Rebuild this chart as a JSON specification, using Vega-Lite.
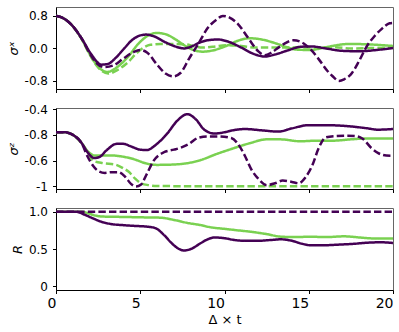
{
 "$schema": "https://vega.github.io/schema/vega-lite/v6.json",
 "padding": {"left": 6, "top": 6, "right": 5, "bottom": 5},
 "spacing": 19,
 "bounds": "flush",
 "config": {
  "font": "DejaVu Sans",
  "view": {"stroke": "#666", "strokeWidth": 1},
  "axis": {"domainColor": "black", "tickColor": "black", "labelColor": "black", "titleColor": "black", "labelFontSize": 12, "titleFontSize": 13, "tickSize": 3.5, "grid": false, "domainWidth": 1, "tickWidth": 1, "labelFont": "DejaVu Sans", "titleFont": "DejaVu Sans", "titleFontWeight": "normal"},
  "axisY": {"labelPadding": 5, "titlePadding": 4, "titleFontStyle": "italic"},
  "axisX": {"labelPadding": 3, "labelFlush": false, "labelFontSize": 14, "labelAlign": "right", "titlePadding": 3}
 },
 "datasets": {
  "d": [
   {"p":1,"s":"gs","t":0,"v":0.8},{"p":1,"s":"gs","t":0.3,"v":0.77},{"p":1,"s":"gs","t":0.9,"v":0.59},{"p":1,"s":"gs","t":1.5,"v":0.25},{"p":1,"s":"gs","t":2.0,"v":-0.14},{"p":1,"s":"gs","t":2.5,"v":-0.45},{"p":1,"s":"gs","t":3.05,"v":-0.58},{"p":1,"s":"gs","t":3.6,"v":-0.47},{"p":1,"s":"gs","t":4.25,"v":-0.22},{"p":1,"s":"gs","t":4.9,"v":0.12},{"p":1,"s":"gs","t":5.4,"v":0.3},{"p":1,"s":"gs","t":5.95,"v":0.38},{"p":1,"s":"gs","t":6.5,"v":0.35},{"p":1,"s":"gs","t":7.1,"v":0.22},{"p":1,"s":"gs","t":7.6,"v":0.08},{"p":1,"s":"gs","t":8.1,"v":-0.03},{"p":1,"s":"gs","t":8.7,"v":-0.08},{"p":1,"s":"gs","t":9.3,"v":-0.05},{"p":1,"s":"gs","t":10.1,"v":0.06},{"p":1,"s":"gs","t":10.8,"v":0.19},{"p":1,"s":"gs","t":11.5,"v":0.25},{"p":1,"s":"gs","t":12.2,"v":0.22},{"p":1,"s":"gs","t":13.0,"v":0.13},{"p":1,"s":"gs","t":13.7,"v":0.03},{"p":1,"s":"gs","t":14.3,"v":-0.03},{"p":1,"s":"gs","t":15.1,"v":-0.04},{"p":1,"s":"gs","t":16.0,"v":0.03},{"p":1,"s":"gs","t":17.4,"v":0.11},{"p":1,"s":"gs","t":18.5,"v":0.1},{"p":1,"s":"gs","t":20,"v":0.06},
   {"p":1,"s":"gd","t":0,"v":0.8},{"p":1,"s":"gd","t":0.3,"v":0.77},{"p":1,"s":"gd","t":0.9,"v":0.59},{"p":1,"s":"gd","t":1.5,"v":0.25},{"p":1,"s":"gd","t":2.0,"v":-0.15},{"p":1,"s":"gd","t":2.5,"v":-0.47},{"p":1,"s":"gd","t":3.1,"v":-0.62},{"p":1,"s":"gd","t":3.7,"v":-0.52},{"p":1,"s":"gd","t":4.3,"v":-0.33},{"p":1,"s":"gd","t":4.75,"v":-0.13},{"p":1,"s":"gd","t":5.2,"v":0.02},{"p":1,"s":"gd","t":5.6,"v":0.09},{"p":1,"s":"gd","t":6.2,"v":0.11},{"p":1,"s":"gd","t":7.0,"v":0.11},{"p":1,"s":"gd","t":7.7,"v":0.1},{"p":1,"s":"gd","t":8.2,"v":0.05},{"p":1,"s":"gd","t":8.7,"v":0.02},{"p":1,"s":"gd","t":9.3,"v":0.04},{"p":1,"s":"gd","t":10.1,"v":0.08},{"p":1,"s":"gd","t":11.0,"v":0.06},{"p":1,"s":"gd","t":11.8,"v":0.02},{"p":1,"s":"gd","t":13.3,"v":0.02},{"p":1,"s":"gd","t":15.0,"v":0.02},{"p":1,"s":"gd","t":16.5,"v":0.03},{"p":1,"s":"gd","t":17.5,"v":0.0},{"p":1,"s":"gd","t":19.0,"v":0.01},{"p":1,"s":"gd","t":20,"v":0.02},
   {"p":1,"s":"ps","t":0,"v":0.8},{"p":1,"s":"ps","t":0.3,"v":0.77},{"p":1,"s":"ps","t":0.9,"v":0.59},{"p":1,"s":"ps","t":1.5,"v":0.26},{"p":1,"s":"ps","t":2.1,"v":-0.15},{"p":1,"s":"ps","t":2.7,"v":-0.4},{"p":1,"s":"ps","t":3.1,"v":-0.38},{"p":1,"s":"ps","t":3.5,"v":-0.25},{"p":1,"s":"ps","t":4.05,"v":0.0},{"p":1,"s":"ps","t":4.5,"v":0.2},{"p":1,"s":"ps","t":5.0,"v":0.32},{"p":1,"s":"ps","t":5.35,"v":0.34},{"p":1,"s":"ps","t":5.8,"v":0.3},{"p":1,"s":"ps","t":6.5,"v":0.15},{"p":1,"s":"ps","t":7.0,"v":0.06},{"p":1,"s":"ps","t":7.6,"v":0.0},{"p":1,"s":"ps","t":8.0,"v":0.04},{"p":1,"s":"ps","t":8.5,"v":0.14},{"p":1,"s":"ps","t":9.0,"v":0.2},{"p":1,"s":"ps","t":9.6,"v":0.22},{"p":1,"s":"ps","t":10.2,"v":0.17},{"p":1,"s":"ps","t":11.0,"v":0.02},{"p":1,"s":"ps","t":11.7,"v":-0.13},{"p":1,"s":"ps","t":12.4,"v":-0.2},{"p":1,"s":"ps","t":13.0,"v":-0.15},{"p":1,"s":"ps","t":13.75,"v":-0.05},{"p":1,"s":"ps","t":14.5,"v":0.04},{"p":1,"s":"ps","t":15.1,"v":0.05},{"p":1,"s":"ps","t":16.0,"v":0.0},{"p":1,"s":"ps","t":17.0,"v":-0.06},{"p":1,"s":"ps","t":18.0,"v":-0.07},{"p":1,"s":"ps","t":19.0,"v":-0.04},{"p":1,"s":"ps","t":20,"v":0.01},
   {"p":1,"s":"pd","t":0,"v":0.8},{"p":1,"s":"pd","t":0.3,"v":0.77},{"p":1,"s":"pd","t":0.9,"v":0.59},{"p":1,"s":"pd","t":1.5,"v":0.26},{"p":1,"s":"pd","t":2.0,"v":-0.12},{"p":1,"s":"pd","t":2.4,"v":-0.36},{"p":1,"s":"pd","t":2.85,"v":-0.46},{"p":1,"s":"pd","t":3.4,"v":-0.42},{"p":1,"s":"pd","t":4.0,"v":-0.25},{"p":1,"s":"pd","t":4.6,"v":-0.09},{"p":1,"s":"pd","t":5.0,"v":-0.04},{"p":1,"s":"pd","t":5.4,"v":-0.1},{"p":1,"s":"pd","t":6.0,"v":-0.4},{"p":1,"s":"pd","t":6.5,"v":-0.62},{"p":1,"s":"pd","t":6.95,"v":-0.69},{"p":1,"s":"pd","t":7.4,"v":-0.6},{"p":1,"s":"pd","t":7.9,"v":-0.25},{"p":1,"s":"pd","t":8.5,"v":0.15},{"p":1,"s":"pd","t":9.0,"v":0.5},{"p":1,"s":"pd","t":9.5,"v":0.7},{"p":1,"s":"pd","t":9.9,"v":0.8},{"p":1,"s":"pd","t":10.3,"v":0.76},{"p":1,"s":"pd","t":10.8,"v":0.6},{"p":1,"s":"pd","t":11.4,"v":0.26},{"p":1,"s":"pd","t":12.0,"v":-0.07},{"p":1,"s":"pd","t":12.4,"v":-0.17},{"p":1,"s":"pd","t":12.8,"v":-0.1},{"p":1,"s":"pd","t":13.2,"v":0.02},{"p":1,"s":"pd","t":13.7,"v":0.15},{"p":1,"s":"pd","t":14.1,"v":0.2},{"p":1,"s":"pd","t":14.7,"v":0.12},{"p":1,"s":"pd","t":15.1,"v":-0.02},{"p":1,"s":"pd","t":15.6,"v":-0.27},{"p":1,"s":"pd","t":16.1,"v":-0.55},{"p":1,"s":"pd","t":16.4,"v":-0.68},{"p":1,"s":"pd","t":16.8,"v":-0.8},{"p":1,"s":"pd","t":17.1,"v":-0.76},{"p":1,"s":"pd","t":17.5,"v":-0.64},{"p":1,"s":"pd","t":18.0,"v":-0.3},{"p":1,"s":"pd","t":18.4,"v":0.02},{"p":1,"s":"pd","t":18.9,"v":0.3},{"p":1,"s":"pd","t":19.3,"v":0.47},{"p":1,"s":"pd","t":19.8,"v":0.62},{"p":1,"s":"pd","t":20,"v":0.63},

   {"p":2,"s":"gs","t":0,"v":-0.58},{"p":2,"s":"gs","t":0.5,"v":-0.58},{"p":2,"s":"gs","t":1.0,"v":-0.6},{"p":2,"s":"gs","t":1.5,"v":-0.66},{"p":2,"s":"gs","t":1.9,"v":-0.73},{"p":2,"s":"gs","t":2.3,"v":-0.76},{"p":2,"s":"gs","t":2.8,"v":-0.76},{"p":2,"s":"gs","t":3.3,"v":-0.76},{"p":2,"s":"gs","t":4.0,"v":-0.77},{"p":2,"s":"gs","t":4.65,"v":-0.79},{"p":2,"s":"gs","t":5.3,"v":-0.82},{"p":2,"s":"gs","t":6.0,"v":-0.833},{"p":2,"s":"gs","t":7.0,"v":-0.83},{"p":2,"s":"gs","t":8.0,"v":-0.815},{"p":2,"s":"gs","t":8.6,"v":-0.795},{"p":2,"s":"gs","t":9.5,"v":-0.75},{"p":2,"s":"gs","t":10.4,"v":-0.71},{"p":2,"s":"gs","t":11.5,"v":-0.665},{"p":2,"s":"gs","t":12.5,"v":-0.635},{"p":2,"s":"gs","t":13.3,"v":-0.635},{"p":2,"s":"gs","t":14.5,"v":-0.65},{"p":2,"s":"gs","t":15.5,"v":-0.645},{"p":2,"s":"gs","t":16.5,"v":-0.645},{"p":2,"s":"gs","t":17.5,"v":-0.635},{"p":2,"s":"gs","t":18.5,"v":-0.628},{"p":2,"s":"gs","t":20,"v":-0.628},
   {"p":2,"s":"gd","t":0,"v":-0.58},{"p":2,"s":"gd","t":0.5,"v":-0.58},{"p":2,"s":"gd","t":1.0,"v":-0.6},{"p":2,"s":"gd","t":1.5,"v":-0.66},{"p":2,"s":"gd","t":1.9,"v":-0.74},{"p":2,"s":"gd","t":2.2,"v":-0.8},{"p":2,"s":"gd","t":2.8,"v":-0.82},{"p":2,"s":"gd","t":3.5,"v":-0.83},{"p":2,"s":"gd","t":4.0,"v":-0.86},{"p":2,"s":"gd","t":4.3,"v":-0.885},{"p":2,"s":"gd","t":4.7,"v":-0.94},{"p":2,"s":"gd","t":5.04,"v":-0.975},{"p":2,"s":"gd","t":5.5,"v":-0.99},{"p":2,"s":"gd","t":6.0,"v":-0.997},{"p":2,"s":"gd","t":8.0,"v":-0.998},{"p":2,"s":"gd","t":12.0,"v":-0.998},{"p":2,"s":"gd","t":16.0,"v":-0.998},{"p":2,"s":"gd","t":20,"v":-0.998},
   {"p":2,"s":"ps","t":0,"v":-0.58},{"p":2,"s":"ps","t":0.5,"v":-0.58},{"p":2,"s":"ps","t":1.0,"v":-0.6},{"p":2,"s":"ps","t":1.5,"v":-0.66},{"p":2,"s":"ps","t":1.9,"v":-0.74},{"p":2,"s":"ps","t":2.27,"v":-0.78},{"p":2,"s":"ps","t":2.6,"v":-0.77},{"p":2,"s":"ps","t":3.0,"v":-0.72},{"p":2,"s":"ps","t":3.6,"v":-0.67},{"p":2,"s":"ps","t":4.0,"v":-0.67},{"p":2,"s":"ps","t":4.45,"v":-0.69},{"p":2,"s":"ps","t":5.0,"v":-0.715},{"p":2,"s":"ps","t":5.4,"v":-0.718},{"p":2,"s":"ps","t":5.9,"v":-0.68},{"p":2,"s":"ps","t":6.6,"v":-0.59},{"p":2,"s":"ps","t":7.2,"v":-0.49},{"p":2,"s":"ps","t":7.8,"v":-0.44},{"p":2,"s":"ps","t":8.3,"v":-0.48},{"p":2,"s":"ps","t":8.8,"v":-0.56},{"p":2,"s":"ps","t":9.4,"v":-0.59},{"p":2,"s":"ps","t":10.0,"v":-0.58},{"p":2,"s":"ps","t":10.5,"v":-0.565},{"p":2,"s":"ps","t":11.2,"v":-0.555},{"p":2,"s":"ps","t":12.2,"v":-0.565},{"p":2,"s":"ps","t":13.2,"v":-0.575},{"p":2,"s":"ps","t":14.0,"v":-0.55},{"p":2,"s":"ps","t":15.0,"v":-0.525},{"p":2,"s":"ps","t":16.0,"v":-0.525},{"p":2,"s":"ps","t":17.5,"v":-0.535},{"p":2,"s":"ps","t":18.5,"v":-0.55},{"p":2,"s":"ps","t":19.1,"v":-0.56},{"p":2,"s":"ps","t":20,"v":-0.555},
   {"p":2,"s":"pd","t":0,"v":-0.58},{"p":2,"s":"pd","t":0.5,"v":-0.58},{"p":2,"s":"pd","t":1.0,"v":-0.6},{"p":2,"s":"pd","t":1.5,"v":-0.66},{"p":2,"s":"pd","t":1.88,"v":-0.77},{"p":2,"s":"pd","t":2.2,"v":-0.84},{"p":2,"s":"pd","t":2.5,"v":-0.88},{"p":2,"s":"pd","t":2.9,"v":-0.895},{"p":2,"s":"pd","t":3.3,"v":-0.89},{"p":2,"s":"pd","t":3.7,"v":-0.89},{"p":2,"s":"pd","t":4.1,"v":-0.925},{"p":2,"s":"pd","t":4.45,"v":-0.98},{"p":2,"s":"pd","t":4.75,"v":-1.0},{"p":2,"s":"pd","t":5.05,"v":-0.985},{"p":2,"s":"pd","t":5.4,"v":-0.9},{"p":2,"s":"pd","t":5.8,"v":-0.8},{"p":2,"s":"pd","t":6.4,"v":-0.735},{"p":2,"s":"pd","t":7.0,"v":-0.715},{"p":2,"s":"pd","t":7.4,"v":-0.7},{"p":2,"s":"pd","t":7.9,"v":-0.67},{"p":2,"s":"pd","t":8.4,"v":-0.625},{"p":2,"s":"pd","t":9.0,"v":-0.612},{"p":2,"s":"pd","t":9.6,"v":-0.612},{"p":2,"s":"pd","t":10.4,"v":-0.625},{"p":2,"s":"pd","t":10.8,"v":-0.67},{"p":2,"s":"pd","t":11.2,"v":-0.76},{"p":2,"s":"pd","t":11.6,"v":-0.87},{"p":2,"s":"pd","t":12.0,"v":-0.94},{"p":2,"s":"pd","t":12.5,"v":-0.99},{"p":2,"s":"pd","t":13.0,"v":-0.975},{"p":2,"s":"pd","t":13.45,"v":-0.955},{"p":2,"s":"pd","t":14.0,"v":-0.965},{"p":2,"s":"pd","t":14.4,"v":-0.975},{"p":2,"s":"pd","t":14.8,"v":-0.93},{"p":2,"s":"pd","t":15.2,"v":-0.84},{"p":2,"s":"pd","t":15.6,"v":-0.7},{"p":2,"s":"pd","t":16.0,"v":-0.62},{"p":2,"s":"pd","t":16.5,"v":-0.61},{"p":2,"s":"pd","t":17.3,"v":-0.607},{"p":2,"s":"pd","t":17.8,"v":-0.61},{"p":2,"s":"pd","t":18.2,"v":-0.63},{"p":2,"s":"pd","t":18.7,"v":-0.7},{"p":2,"s":"pd","t":19.1,"v":-0.74},{"p":2,"s":"pd","t":19.6,"v":-0.76},{"p":2,"s":"pd","t":20,"v":-0.762},

   {"p":3,"s":"gs","t":0,"v":1.0},{"p":3,"s":"gs","t":1.5,"v":1.0},{"p":3,"s":"gs","t":1.9,"v":0.98},{"p":3,"s":"gs","t":2.3,"v":0.95},{"p":3,"s":"gs","t":2.8,"v":0.935},{"p":3,"s":"gs","t":4.0,"v":0.93},{"p":3,"s":"gs","t":5.0,"v":0.925},{"p":3,"s":"gs","t":6.2,"v":0.92},{"p":3,"s":"gs","t":7.0,"v":0.89},{"p":3,"s":"gs","t":7.8,"v":0.85},{"p":3,"s":"gs","t":8.6,"v":0.82},{"p":3,"s":"gs","t":9.2,"v":0.79},{"p":3,"s":"gs","t":9.8,"v":0.775},{"p":3,"s":"gs","t":10.6,"v":0.755},{"p":3,"s":"gs","t":11.6,"v":0.73},{"p":3,"s":"gs","t":12.5,"v":0.7},{"p":3,"s":"gs","t":13.35,"v":0.665},{"p":3,"s":"gs","t":14.2,"v":0.66},{"p":3,"s":"gs","t":15.1,"v":0.665},{"p":3,"s":"gs","t":16.0,"v":0.66},{"p":3,"s":"gs","t":17.1,"v":0.67},{"p":3,"s":"gs","t":18.0,"v":0.655},{"p":3,"s":"gs","t":18.5,"v":0.645},{"p":3,"s":"gs","t":19.2,"v":0.64},{"p":3,"s":"gs","t":20,"v":0.64},
   {"p":3,"s":"ps","t":0,"v":1.0},{"p":3,"s":"ps","t":1.2,"v":1.0},{"p":3,"s":"ps","t":1.7,"v":0.96},{"p":3,"s":"ps","t":2.2,"v":0.91},{"p":3,"s":"ps","t":2.7,"v":0.865},{"p":3,"s":"ps","t":3.26,"v":0.835},{"p":3,"s":"ps","t":4.0,"v":0.82},{"p":3,"s":"ps","t":4.65,"v":0.81},{"p":3,"s":"ps","t":5.4,"v":0.8},{"p":3,"s":"ps","t":5.9,"v":0.78},{"p":3,"s":"ps","t":6.4,"v":0.69},{"p":3,"s":"ps","t":6.9,"v":0.57},{"p":3,"s":"ps","t":7.3,"v":0.5},{"p":3,"s":"ps","t":7.6,"v":0.48},{"p":3,"s":"ps","t":8.0,"v":0.5},{"p":3,"s":"ps","t":8.6,"v":0.58},{"p":3,"s":"ps","t":9.0,"v":0.63},{"p":3,"s":"ps","t":9.4,"v":0.655},{"p":3,"s":"ps","t":10.0,"v":0.645},{"p":3,"s":"ps","t":10.6,"v":0.62},{"p":3,"s":"ps","t":11.3,"v":0.61},{"p":3,"s":"ps","t":12.0,"v":0.61},{"p":3,"s":"ps","t":12.7,"v":0.62},{"p":3,"s":"ps","t":13.35,"v":0.63},{"p":3,"s":"ps","t":14.0,"v":0.61},{"p":3,"s":"ps","t":14.6,"v":0.57},{"p":3,"s":"ps","t":15.1,"v":0.55},{"p":3,"s":"ps","t":15.8,"v":0.55},{"p":3,"s":"ps","t":16.9,"v":0.56},{"p":3,"s":"ps","t":17.7,"v":0.57},{"p":3,"s":"ps","t":18.5,"v":0.585},{"p":3,"s":"ps","t":19.3,"v":0.59},{"p":3,"s":"ps","t":20,"v":0.58},
   {"p":3,"s":"pd","t":0,"v":1.0},{"p":3,"s":"pd","t":10,"v":1.0},{"p":3,"s":"pd","t":20,"v":1.0}
  ]
 },
 "vconcat": [
  {
   "width": 337, "height": 82,
   "data": {"name": "d"},
   "transform": [{"filter": "datum.p == 1"}],
   "mark": {"type": "line", "interpolate": "monotone", "strokeWidth": 2.5, "clip": true},
   "encoding": {
    "x": {"field": "t", "type": "quantitative", "scale": {"domain": [0, 20], "nice": false, "zero": false}, "axis": {"values": [0, 5, 10, 15, 20], "labels": false, "title": null}},
    "y": {"field": "v", "type": "quantitative", "scale": {"domain": [-1.0, 1.02], "nice": false, "zero": false}, "axis": {"values": [-0.8, 0, 0.8], "labelExpr": "datum.value > 0.4 ? '0.8' : datum.value < -0.4 ? '-0.8' : '0.0'", "title": "σˣ"}},
    "color": {"field": "s", "type": "nominal", "scale": {"domain": ["gs", "gd", "ps", "pd"], "range": ["#7ad151", "#7ad151", "#440154", "#440154"]}, "legend": null},
    "strokeDash": {"field": "s", "type": "nominal", "scale": {"domain": ["gs", "gd", "ps", "pd"], "range": [[1, 0], [7.4, 3.2], [1, 0], [7.4, 3.2]]}, "legend": null}
   }
  },
  {
   "width": 337, "height": 81,
   "data": {"name": "d"},
   "transform": [{"filter": "datum.p == 2"}],
   "mark": {"type": "line", "interpolate": "monotone", "strokeWidth": 2.5, "clip": true},
   "encoding": {
    "x": {"field": "t", "type": "quantitative", "scale": {"domain": [0, 20], "nice": false, "zero": false}, "axis": {"values": [0, 5, 10, 15, 20], "labels": false, "title": null}},
    "y": {"field": "v", "type": "quantitative", "scale": {"domain": [-1.02, -0.392], "nice": false, "zero": false}, "axis": {"values": [-1, -0.8, -0.6, -0.4], "labelExpr": "datum.value < -0.9 ? '-1' : datum.value < -0.7 ? '-0.6' : datum.value < -0.5 ? '-0.8' : '-0.4'", "title": "σᶻ"}},
    "color": {"field": "s", "type": "nominal", "scale": {"domain": ["gs", "gd", "ps", "pd"], "range": ["#7ad151", "#7ad151", "#440154", "#440154"]}, "legend": null},
    "strokeDash": {"field": "s", "type": "nominal", "scale": {"domain": ["gs", "gd", "ps", "pd"], "range": [[1, 0], [7.4, 3.2], [1, 0], [7.4, 3.2]]}, "legend": null}
   }
  },
  {
   "width": 337, "height": 82,
   "data": {"name": "d"},
   "transform": [{"filter": "datum.p == 3"}],
   "mark": {"type": "line", "interpolate": "monotone", "strokeWidth": 2.5, "clip": true},
   "encoding": {
    "x": {"field": "t", "type": "quantitative", "scale": {"domain": [0, 20], "nice": false, "zero": false}, "axis": {"values": [0, 5, 10, 15, 20], "format": "d", "title": "Δ × t"}},
    "y": {"field": "v", "type": "quantitative", "scale": {"domain": [-0.05, 1.05], "nice": false, "zero": false}, "axis": {"values": [0, 0.5, 1], "labelExpr": "datum.value > 0.9 ? '1.0' : datum.value > 0.4 ? '0.5' : '0'", "title": "R"}},
    "color": {"field": "s", "type": "nominal", "scale": {"domain": ["gs", "gd", "ps", "pd"], "range": ["#7ad151", "#7ad151", "#440154", "#440154"]}, "legend": null},
    "strokeDash": {"field": "s", "type": "nominal", "scale": {"domain": ["gs", "gd", "ps", "pd"], "range": [[1, 0], [7.4, 3.2], [1, 0], [7.4, 3.2]]}, "legend": null}
   }
  }
 ]
}
